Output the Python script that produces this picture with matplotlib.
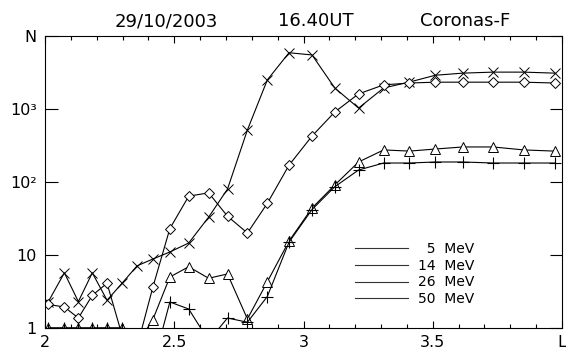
import matplotlib
matplotlib.use('Agg')
import matplotlib.pyplot as plt
from matplotlib.lines import Line2D
from matplotlib.ticker import FixedLocator, NullLocator, FixedFormatter

# L-shell positions of the measurements
shell_l = [2.013, 2.075, 2.129, 2.183, 2.240, 2.298, 2.356, 2.417, 2.483, 2.556,
           2.633, 2.706, 2.783, 2.860, 2.944, 3.033, 3.121, 3.213, 3.310, 3.410,
           3.510, 3.617, 3.733, 3.852, 3.971]

# counts per channel (values below 1 fall under the axis)
mev_5 = [2.3, 5.7, 2.3, 5.7, 2.4, 4.1, 7.1, 8.8, 11, 14.6, 33, 80, 516, 2500,
         5900, 5500, 1940, 1030, 1940, 2340, 2900, 3100, 3200, 3200, 3100]
mev_14 = [2.1, 1.94, 1.37, 2.8, 4.1, 0.8, 0.55, 3.6, 23, 64, 71, 34, 20, 51,
          170, 426, 910, 1610, 2140, 2270, 2330, 2330, 2330, 2330, 2270]
mev_26 = [1, 1, 1, 1, 1, 1, 0.6, 1.3, 5.0, 6.9, 4.8, 5.5, 1.33, 4.3, 15.5,
          44, 91, 188, 275, 265, 283, 302, 302, 275, 265]
mev_50 = [1, 1, 1, 1, 1, 1, 0.5, 0.3, 2.27, 1.82, 0.67, 1.37, 1.2, 2.7, 15,
          42, 86, 146, 182, 182, 188, 188, 182, 182, 182]

legend_labels = ['  5  MeV', '14  MeV', '26  MeV', '50  MeV']
x_ticks = [2, 2.5, 3, 3.5, 4]
x_labels = ['2', '2.5', '3', '3.5', 'L']
y_ticks = [1, 10, 100, 1000, 10000]
y_labels = ['1', '10', '10²', '10³', 'N']

fig = plt.figure(figsize=(5.66, 3.53), dpi=100)
ax = fig.add_axes([45 / 566, 25 / 353, 517 / 566, 292 / 353])

ax.plot(shell_l, mev_5, color='black', lw=0.8, marker='x', ms=7, mew=0.7)
ax.plot(shell_l, mev_14, color='black', lw=0.8, marker='D', ms=5, mew=0.7, mfc='white')
ax.plot(shell_l, mev_26, color='black', lw=0.8, marker='^', ms=7.5, mew=0.7, mfc='white')
ax.plot(shell_l, mev_50, color='black', lw=0.8, marker='+', ms=8, mew=0.8)

ax.set_yscale('log')
ax.set_xlim(2, 4)
ax.set_ylim(1, 1e4)

ax.xaxis.set_major_locator(FixedLocator(x_ticks))
ax.xaxis.set_major_formatter(FixedFormatter(x_labels))
ax.xaxis.set_minor_locator(FixedLocator([2 + 0.1 * i for i in range(21)]))
ax.yaxis.set_major_locator(FixedLocator(y_ticks))
ax.yaxis.set_major_formatter(FixedFormatter(y_labels))
ax.yaxis.set_minor_locator(NullLocator())

ax.tick_params(axis='x', which='major', direction='in', length=5, width=0.8,
               top=True, pad=5, labelsize=11.5)
ax.tick_params(axis='x', which='minor', direction='in', length=3, width=0.8, top=True)
ax.tick_params(axis='y', which='major', direction='in', length=9, width=0.8,
               right=True, pad=6, labelsize=11.5)
for s in ax.spines.values():
    s.set_linewidth(0.8)

handles = [Line2D([0], [0], color='#333333', lw=0.8) for _ in legend_labels]
ax.legend(handles, legend_labels, loc='upper left', bbox_to_anchor=(0.60, 0.295),
          frameon=False, fontsize=10, handlelength=3.8, handletextpad=0.7,
          labelspacing=0.2, borderpad=0, borderaxespad=0)

title_y = 1 - 21 / 353
fig.text(166 / 566, title_y, '29/10/2003', ha='center', va='center', fontsize=13)
fig.text(316 / 566, title_y, '16.40UT', ha='center', va='center', fontsize=13)
fig.text(465 / 566, title_y, 'Coronas-F', ha='center', va='center', fontsize=13)

fig.savefig('out.png', dpi=100)
